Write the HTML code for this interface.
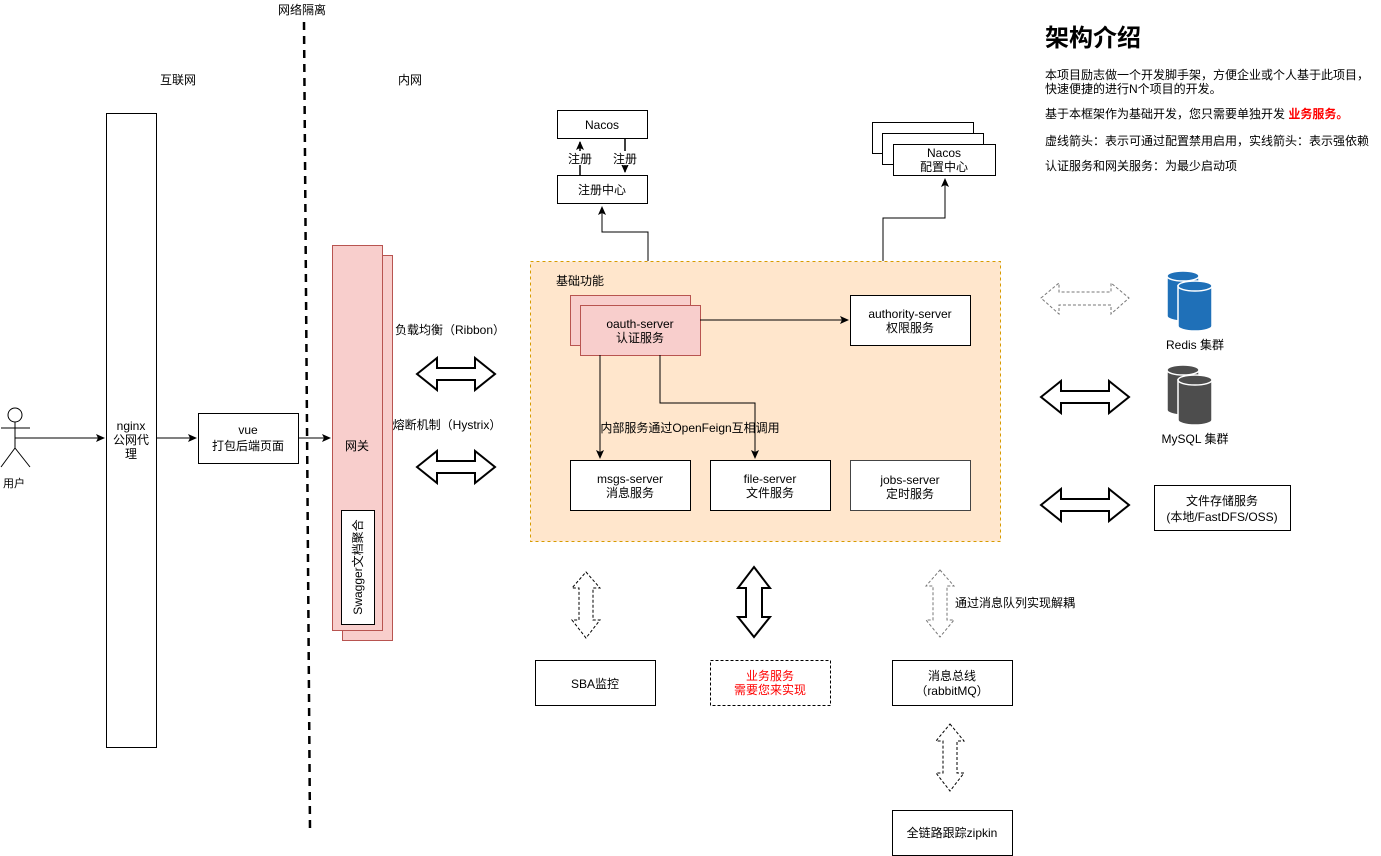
<!DOCTYPE html>
<html><head><meta charset="utf-8"><style>
html,body{margin:0;padding:0;background:#fff;}
svg{display:block;}
text{font-family:"Liberation Sans","Noto Sans CJK SC",sans-serif;font-size:12px;fill:#000;}
</style></head><body>
<svg width="1381" height="856" viewBox="0 0 1381 856" xmlns="http://www.w3.org/2000/svg">
<defs>
<marker id="ar" markerWidth="10" markerHeight="10" refX="8" refY="4" orient="auto" markerUnits="userSpaceOnUse">
<path d="M0,0 L9,4 L0,8 L2,4 z" fill="#000"/></marker>
</defs>
<text x="302" y="14" text-anchor="middle">网络隔离</text>
<text x="178" y="84" text-anchor="middle">互联网</text>
<text x="410" y="84" text-anchor="middle">内网</text>
<line x1="304" y1="22" x2="310" y2="830" stroke="#000" stroke-width="2.5" stroke-dasharray="8,6"/>

<circle cx="15" cy="415" r="7" fill="#fff" stroke="#000"/>
<line x1="15" y1="422" x2="15" y2="448" stroke="#000"/>
<line x1="1" y1="428" x2="30" y2="428" stroke="#000"/>
<line x1="15" y1="448" x2="1" y2="467" stroke="#000"/>
<line x1="15" y1="448" x2="30" y2="467" stroke="#000"/>
<text x="14" y="487" text-anchor="middle" style="font-size:11px">用户</text>
<line x1="15" y1="438" x2="104" y2="438" stroke="#000" marker-end="url(#ar)"/>

<rect x="106.5" y="113.5" width="50" height="634" fill="#fff" stroke="#000"/>
<text x="131" y="430" text-anchor="middle">nginx</text>
<text x="131" y="444" text-anchor="middle">公网代</text>
<text x="131" y="458" text-anchor="middle">理</text>
<line x1="156" y1="438" x2="196" y2="438" stroke="#000" marker-end="url(#ar)"/>

<rect x="198.5" y="413.5" width="100" height="50" fill="#fff" stroke="#000"/>
<text x="248" y="434" text-anchor="middle">vue</text>
<text x="248" y="450" text-anchor="middle">打包后端页面</text>
<line x1="298" y1="438" x2="330" y2="438" stroke="#000" marker-end="url(#ar)"/>

<rect x="342.5" y="255.5" width="50" height="385" fill="#f8cecc" stroke="#b85450"/>
<rect x="332.5" y="245.5" width="50" height="385" fill="#f8cecc" stroke="#b85450"/>
<text x="357" y="450" text-anchor="middle">网关</text>
<rect x="341.5" y="510.5" width="33" height="114" fill="#fff" stroke="#000"/>
<text transform="translate(362,567) rotate(-90)" text-anchor="middle">Swagger文档聚合</text>

<text x="450" y="334" text-anchor="middle">负载均衡（Ribbon）</text>
<text x="447" y="429" text-anchor="middle">熔断机制（Hystrix）</text>
<polygon points="417,374 437,358 437,368 475,368 475,358 495,374 475,390 475,380 437,380 437,390" fill="#fff" stroke="#000" stroke-width="2"/>
<polygon points="417,467 437,451 437,461 475,461 475,451 495,467 475,483 475,473 437,473 437,483" fill="#fff" stroke="#000" stroke-width="2"/>

<rect x="557.5" y="110.5" width="90" height="28" fill="#fff" stroke="#000"/>
<text x="602" y="129" text-anchor="middle">Nacos</text>
<rect x="557.5" y="175.5" width="90" height="28" fill="#fff" stroke="#000"/>
<text x="602" y="194" text-anchor="middle">注册中心</text>
<line x1="580" y1="175" x2="580" y2="142" stroke="#000" stroke-width="1.5" marker-end="url(#ar)"/>
<line x1="625" y1="139" x2="625" y2="172" stroke="#000" stroke-width="1.5" marker-end="url(#ar)"/>
<rect x="565" y="151" width="30" height="14" fill="#fff"/>
<rect x="610" y="151" width="30" height="14" fill="#fff"/>
<text x="580" y="163" text-anchor="middle">注册</text>
<text x="625" y="163" text-anchor="middle">注册</text>
<polyline points="648,261 648,232 602,232 602,207" fill="none" stroke="#000" marker-end="url(#ar)"/>

<rect x="872.5" y="122.5" width="101" height="31" fill="#fff" stroke="#000"/>
<rect x="882.5" y="133.5" width="101" height="31" fill="#fff" stroke="#000"/>
<rect x="893.5" y="144.5" width="102" height="31" fill="#fff" stroke="#000"/>
<text x="944" y="157" text-anchor="middle">Nacos</text>
<text x="944" y="171" text-anchor="middle">配置中心</text>
<polyline points="883,261 883,218 945,218 945,179" fill="none" stroke="#000" marker-end="url(#ar)"/>

<rect x="530.5" y="261.5" width="470" height="280" fill="#ffe6cc" stroke="#d79b00" stroke-dasharray="3,3"/>
<text x="556" y="285">基础功能</text>
<rect x="570.5" y="295.5" width="120" height="50" fill="#f8cecc" stroke="#b85450"/>
<rect x="580.5" y="305.5" width="120" height="50" fill="#f8cecc" stroke="#b85450"/>
<text x="640" y="328" text-anchor="middle">oauth-server</text>
<text x="640" y="342" text-anchor="middle">认证服务</text>
<rect x="850.5" y="295.5" width="120" height="50" fill="#fff" stroke="#000"/>
<text x="910" y="318" text-anchor="middle">authority-server</text>
<text x="910" y="332" text-anchor="middle">权限服务</text>
<line x1="700" y1="320" x2="848" y2="320" stroke="#000" marker-end="url(#ar)"/>
<line x1="600" y1="355" x2="600" y2="458" stroke="#000" marker-end="url(#ar)"/>
<polyline points="660,355 660,403 755,403 755,458" fill="none" stroke="#000" marker-end="url(#ar)"/>
<text x="690" y="432" text-anchor="middle">内部服务通过OpenFeign互相调用</text>
<rect x="570.5" y="460.5" width="120" height="50" fill="#fff" stroke="#000"/>
<text x="630" y="483" text-anchor="middle">msgs-server</text>
<text x="630" y="497" text-anchor="middle">消息服务</text>
<rect x="710.5" y="460.5" width="120" height="50" fill="#fff" stroke="#000"/>
<text x="770" y="483" text-anchor="middle">file-server</text>
<text x="770" y="497" text-anchor="middle">文件服务</text>
<rect x="850.5" y="460.5" width="120" height="50" fill="#fff" stroke="#444"/>
<text x="910" y="484" text-anchor="middle">jobs-server</text>
<text x="910" y="498" text-anchor="middle">定时服务</text>

<text x="1045" y="46" style="font-size:24px;font-weight:bold">架构介绍</text>
<text x="1045" y="79" style="font-size:12px">本项目励志做一个开发脚手架，方便企业或个人基于此项目，</text>
<text x="1045" y="93" style="font-size:12px">快速便捷的进行N个项目的开发。</text>
<text x="1045" y="118" style="font-size:12px">基于本框架作为基础开发，您只需要单独开发 <tspan style="fill:#f00;font-weight:bold">业务服务。</tspan></text>
<text x="1045" y="145" style="font-size:12px">虚线箭头：表示可通过配置禁用启用，实线箭头：表示强依赖</text>
<text x="1045" y="170" style="font-size:12px">认证服务和网关服务：为最少启动项</text>

<polygon points="1041,298 1059,283 1059,292 1111,292 1111,283 1129,298 1111,314 1111,305 1059,305 1059,314" fill="#fff" stroke="#777" stroke-dasharray="3,2"/>
<polygon points="1041,397 1061,381 1061,391 1109,391 1109,381 1129,397 1109,413 1109,403 1061,403 1061,413" fill="#fff" stroke="#000" stroke-width="2"/>
<polygon points="1041,505 1061,489 1061,499 1109,499 1109,489 1129,505 1109,521 1109,511 1061,511 1061,521" fill="#fff" stroke="#000" stroke-width="2"/>

<g fill="#1f70b8" stroke="#fff" stroke-width="1.5">
<path d="M1167,276 v40 a16,5 0 0 0 32,0 v-40 z"/><ellipse cx="1183" cy="276" rx="16" ry="5"/>
<path d="M1178,286 v40 a17,5 0 0 0 34,0 v-40 z"/><ellipse cx="1195" cy="286" rx="17" ry="5"/>
</g>
<text x="1195" y="349" text-anchor="middle">Redis 集群</text>
<g fill="#4d4d4d" stroke="#fff" stroke-width="1.5">
<path d="M1167,370 v40 a16,5 0 0 0 32,0 v-40 z"/><ellipse cx="1183" cy="370" rx="16" ry="5"/>
<path d="M1178,380 v40 a17,5 0 0 0 34,0 v-40 z"/><ellipse cx="1195" cy="380" rx="17" ry="5"/>
</g>
<text x="1195" y="443" text-anchor="middle">MySQL 集群</text>
<rect x="1154.5" y="485.5" width="136" height="45" fill="#fff" stroke="#000"/>
<text x="1222" y="505" text-anchor="middle">文件存储服务</text>
<text x="1222" y="521" text-anchor="middle">(本地/FastDFS/OSS)</text>

<polygon points="586,572 600,588 593,588 593,620 600,620 586,638 572,620 579,620 579,588 572,588" fill="#fff" stroke="#000" stroke-dasharray="3,2"/>
<polygon points="754,567 770,588 762,588 762,617 770,617 754,637 738,617 746,617 746,588 738,588" fill="#fff" stroke="#000" stroke-width="2"/>
<polygon points="940,570 954,586 947,586 947,620 954,620 940,637 926,620 933,620 933,586 926,586" fill="#fff" stroke="#777" stroke-dasharray="3,2"/>
<text x="955" y="607">通过消息队列实现解耦</text>
<rect x="535.5" y="660.5" width="120" height="45" fill="#fff" stroke="#000"/>
<text x="595" y="688" text-anchor="middle">SBA监控</text>
<rect x="710.5" y="660.5" width="120" height="45" fill="#fff" stroke="#000" stroke-dasharray="3,2"/>
<text x="770" y="680" text-anchor="middle" style="fill:#f00">业务服务</text>
<text x="770" y="694" text-anchor="middle" style="fill:#f00">需要您来实现</text>
<rect x="892.5" y="660.5" width="120" height="45" fill="#fff" stroke="#000"/>
<text x="952" y="680" text-anchor="middle">消息总线</text>
<text x="952" y="695" text-anchor="middle">（rabbitMQ）</text>
<polygon points="950,724 964,741 957,741 957,773 964,773 950,791 936,773 943,773 943,741 936,741" fill="#fff" stroke="#000" stroke-dasharray="3,2"/>
<rect x="892.5" y="810.5" width="120" height="45" fill="#fff" stroke="#000"/>
<text x="952" y="837" text-anchor="middle">全链路跟踪zipkin</text>
</svg>
</body></html>
